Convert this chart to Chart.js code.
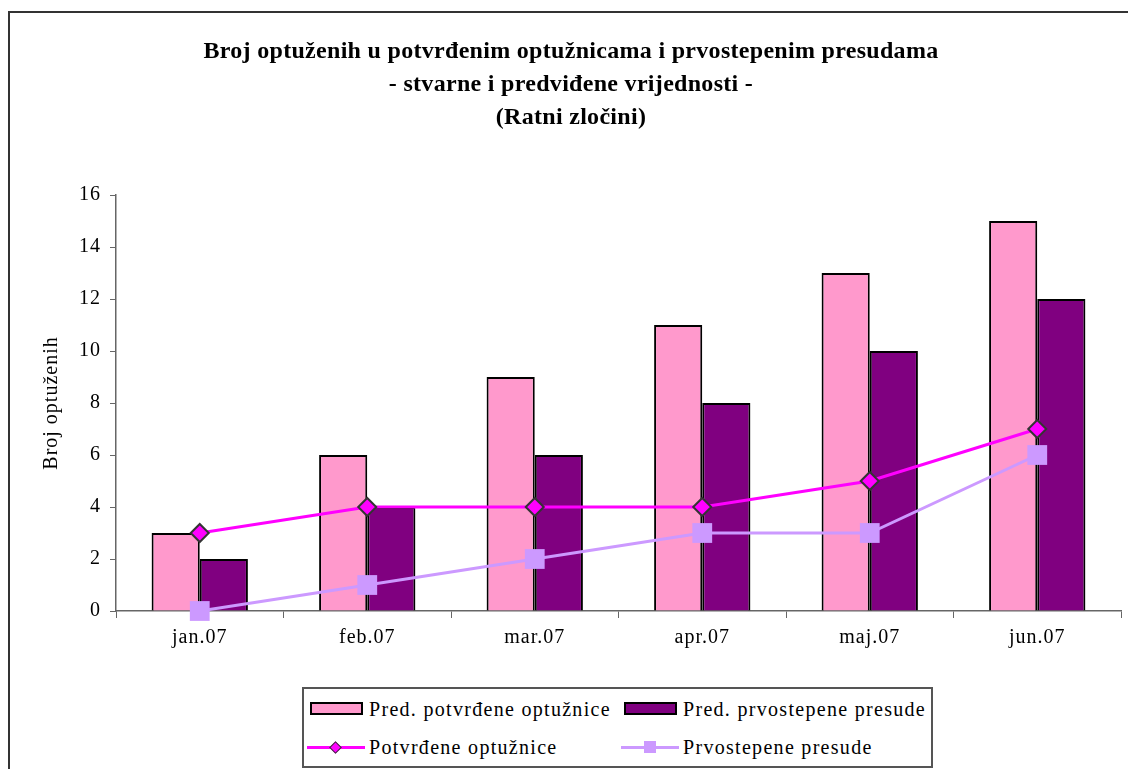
<!DOCTYPE html>
<html>
<head>
<meta charset="utf-8">
<title>Broj optuženih</title>
<script src="https://cdn.jsdelivr.net/npm/chart.js@4.4.0/dist/chart.umd.min.js"></script>
<style>
  html, body { margin: 0; padding: 0; background: #fff; }
  #wrap { position: relative; width: 1128px; height: 769px; overflow: hidden; }
  #frame { position: absolute; left: 8px; top: 11px; width: 1200px; height: 800px;
           border-left: 2px solid #333; border-top: 2px solid #333; }
  #chart { position: absolute; left: 0; top: 0; }
  #legend { position: absolute; left: 302px; top: 687px; width: 631px; height: 81px;
            border: 2px solid #555; box-sizing: border-box; background: #fff;
            font-family: "Liberation Serif", "Times New Roman", serif; font-size: 20px;
            letter-spacing: 1.3px; color: #000; }
  .sym { position: absolute; box-sizing: border-box; }
  .txt { position: absolute; line-height: 24px; white-space: nowrap; }
</style>
</head>
<body>
<div id="wrap">
  <div id="frame"></div>
  <canvas id="chart" width="1135" height="769"></canvas>
  <div id="legend"></div>
</div>
<script>
// ---------------------------------------------------------------
// PODACI
// ---------------------------------------------------------------
const months = ['jan.07', 'feb.07', 'mar.07', 'apr.07', 'maj.07', 'jun.07'];
const predOptuznice = [3, 6, 9, 11, 13, 15];     // Pred. potvrđene optužnice
const predPresude = [2, 4, 6, 8, 10, 12];        // Pred. prvostepene presude
const potvrdeneOptuznice = [3, 4, 4, 4, 5, 7];   // Potvrđene optužnice
const prvostepenePresude = [0, 1, 2, 3, 3, 6];   // Prvostepene presude
const yTicks = [0, 2, 4, 6, 8, 10, 12, 14, 16];

const titleLines = [
  'Broj optuženih u potvrđenim optužnicama i prvostepenim presudama',
  '- stvarne i predviđene vrijednosti -',
  '(Ratni zločini)'
];
const yTitle = 'Broj optuženih';

const serif = '"Liberation Serif", "Times New Roman", serif';

// razmak izmedju slova kao u originalu (Excel)
const spacingPlugin = {
  id: 'spacing',
  beforeUpdate(chart) { chart.ctx.letterSpacing = '1px'; },
  beforeDraw(chart) { chart.ctx.letterSpacing = '1px'; }
};

const ctx = document.getElementById('chart').getContext('2d');
const chart = new Chart(ctx, {
  type: 'bar',
  data: {
    labels: months,
    datasets: [
      {
        label: 'Pred. potvrđene optužnice',
        data: predOptuznice,
        backgroundColor: '#FF99CC',
        borderColor: '#000',
        borderWidth: 2,
        categoryPercentage: 0.575,
        barPercentage: 1,
        order: 2
      },
      {
        label: 'Pred. prvostepene presude',
        data: predPresude,
        backgroundColor: '#800080',
        borderColor: '#000',
        borderWidth: 2,
        categoryPercentage: 0.575,
        barPercentage: 1,
        order: 2
      },
      {
        type: 'line',
        label: 'Potvrđene optužnice',
        data: potvrdeneOptuznice,
        borderColor: '#FF00FF',
        backgroundColor: '#FF00FF',
        borderWidth: 3,
        tension: 0,
        pointStyle: 'rectRot',
        pointRadius: 9,
        pointBorderWidth: 2,
        pointBorderColor: '#333',
        pointBackgroundColor: '#FF00FF',
        clip: false,
        order: 1
      },
      {
        type: 'line',
        label: 'Prvostepene presude',
        data: prvostepenePresude,
        borderColor: '#CC99FF',
        backgroundColor: '#CC99FF',
        borderWidth: 3,
        tension: 0,
        pointStyle: 'rect',
        pointRadius: 14,
        pointBorderWidth: 0,
        pointBackgroundColor: '#CC99FF',
        clip: false,
        order: 0
      }
    ]
  },
  options: {
    responsive: false,
    animation: false,
    events: [],
    layout: { padding: { top: 0, left: 0, right: 8, bottom: 108 } },
    plugins: {
      legend: { display: false },
      tooltip: { enabled: false },
      title: {
        display: true,
        text: titleLines,
        color: '#000',
        font: { family: serif, size: 24, weight: 'bold', lineHeight: 33 / 24 },
        padding: { top: 35, bottom: 61 }
      }
    },
    scales: {
      x: {
        offset: true,
        grid: { display: true, drawOnChartArea: false, drawTicks: true, tickLength: 7, color: '#666', offset: true },
        border: { color: '#666', width: 1.5 },
        ticks: { color: '#000', padding: 8, font: { family: serif, size: 20 } },
        afterFit(scale) {
          scale.height = 50;
          scale.paddingLeft = 0;
          scale.paddingRight = 0;
        }
      },
      y: {
        min: 0,
        max: 16,
        afterBuildTicks(scale) { scale.ticks = yTicks.map(v => ({ value: v })); },
        grid: { display: true, drawOnChartArea: false, drawTicks: true, tickLength: 6, color: '#666' },
        border: { color: '#666', width: 1.5 },
        ticks: { color: '#000', padding: 9, font: { family: serif, size: 20 } },
        title: {
          display: true,
          text: yTitle,
          color: '#000',
          font: { family: serif, size: 20 },
          padding: { top: 40, bottom: 0 }
        },
        afterFit(scale) { scale.width = 116; }
      }
    }
  },
  plugins: [spacingPlugin]
});

// naslov: manji razmak izmedju slova, malo udesno
const titleBox = chart.titleBlock;
const drawTitle = titleBox.draw.bind(titleBox);
titleBox.draw = function () {
  chart.ctx.save();
  chart.ctx.letterSpacing = '0.3px';
  chart.ctx.translate(7.5, 0);
  drawTitle();
  chart.ctx.restore();
};
chart.update();

// ---------------------------------------------------------------
// LEGENDA (HTML, iz dataset-a)
// ---------------------------------------------------------------
function buildLegend(ch) {
  const box = document.getElementById('legend');
  box.innerHTML = '';
  const cols = [0, 314];       // x pomak kolone
  const rows = [20, 58];       // sredina reda
  ch.data.datasets.forEach((ds, i) => {
    const cx = cols[i % 2];
    const cy = rows[Math.floor(i / 2)];
    const isLine = ds.type === 'line';
    if (!isLine) {
      const sw = document.createElement('div');
      sw.className = 'sym';
      Object.assign(sw.style, {
        left: (cx + 6) + 'px', top: (cy - 7) + 'px', width: '53px', height: '13px',
        background: ds.backgroundColor, border: '2px solid #000'
      });
      box.appendChild(sw);
    } else {
      const ln = document.createElement('div');
      ln.className = 'sym';
      Object.assign(ln.style, {
        left: (cx + 3) + 'px', top: (cy - 1.5) + 'px', width: '58px', height: '3px',
        background: ds.borderColor
      });
      box.appendChild(ln);
      const mk = document.createElement('div');
      mk.className = 'sym';
      if (ds.pointStyle === 'rectRot') {
        Object.assign(mk.style, {
          left: (cx + 27) + 'px', top: (cy - 4.5) + 'px', width: '9px', height: '9px',
          background: ds.pointBackgroundColor, border: '1.5px solid #333', transform: 'rotate(45deg)'
        });
      } else {
        Object.assign(mk.style, {
          left: (cx + 26) + 'px', top: (cy - 6) + 'px', width: '12px', height: '12px',
          background: ds.pointBackgroundColor
        });
      }
      box.appendChild(mk);
    }
    const t = document.createElement('div');
    t.className = 'txt';
    t.textContent = ds.label;
    t.style.left = (cx + 65) + 'px';
    t.style.top = (cy - 12) + 'px';
    box.appendChild(t);
  });
}
buildLegend(chart);
</script>
</body>
</html>
